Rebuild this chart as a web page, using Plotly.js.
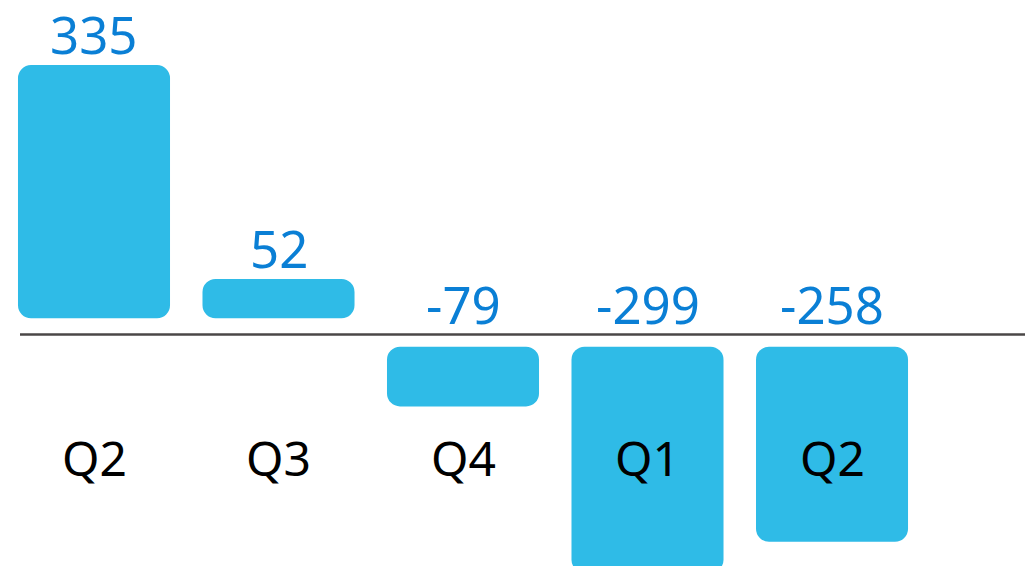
<!DOCTYPE html>
<html>
<head>
<meta charset="utf-8">
<script src="https://cdn.plot.ly/plotly-3.0.1.min.js"></script>
<style>html,body{margin:0;padding:0;background:#fff;}#chart{width:1025px;height:566px;}</style>
</head>
<body>
<div id="chart"></div>
<script>
var quarters = ["Q2", "Q3", "Q4", "Q1", "Q2"];
var values = [335, 52, -79, -299, -258];

var posGap = 21.4, negGap = 16.1;
var xs = values.map(function(v, i){ return i; });
var bases = values.map(function(v){ return v >= 0 ? posGap : -negGap; });

var annotations = [];
values.forEach(function(v, i){
  annotations.push({
    x: i, xref: 'x',
    y: v >= 0 ? posGap + v : 0, yref: 'y',
    yanchor: 'bottom', xanchor: 'center',
    text: String(v), showarrow: false,
    font: {family: 'Noto Sans', size: 51, color: '#0a7fd5'},
    yshift: -6
  });
  annotations.push({
    x: i, xref: 'x',
    y: 1 - 457/566, yref: 'paper',
    yanchor: 'middle', xanchor: 'center',
    text: quarters[i], showarrow: false,
    font: {family: 'Noto Sans', size: 48, color: '#000000'}
  });
});

var trace = {
  type: 'bar',
  x: xs,
  y: values,
  base: bases,
  width: 0.824,
  marker: {color: '#2fbbe7', cornerradius: 13},
  hoverinfo: 'skip'
};

var layout = {
  width: 1025, height: 566,
  margin: {l: 0, r: 0, t: 0, b: 0, pad: 0},
  paper_bgcolor: '#ffffff', plot_bgcolor: '#ffffff',
  showlegend: false,
  xaxis: {range: [-0.5095, 5.046], showgrid: false, zeroline: false, showticklabels: false, ticks: '', showline: false, fixedrange: true},
  yaxis: {range: [-306.2, 442.5], showgrid: false, zeroline: false, showticklabels: false, ticks: '', showline: false, fixedrange: true},
  shapes: [{type: 'line', xref: 'paper', yref: 'y', x0: 20/1025, x1: 1, y0: 0, y1: 0, line: {color: '#4a4747', width: 2.5}, layer: 'above'}],
  annotations: annotations
};

Plotly.newPlot('chart', [trace], layout, {displayModeBar: false, staticPlot: true});
</script>
</body>
</html>
